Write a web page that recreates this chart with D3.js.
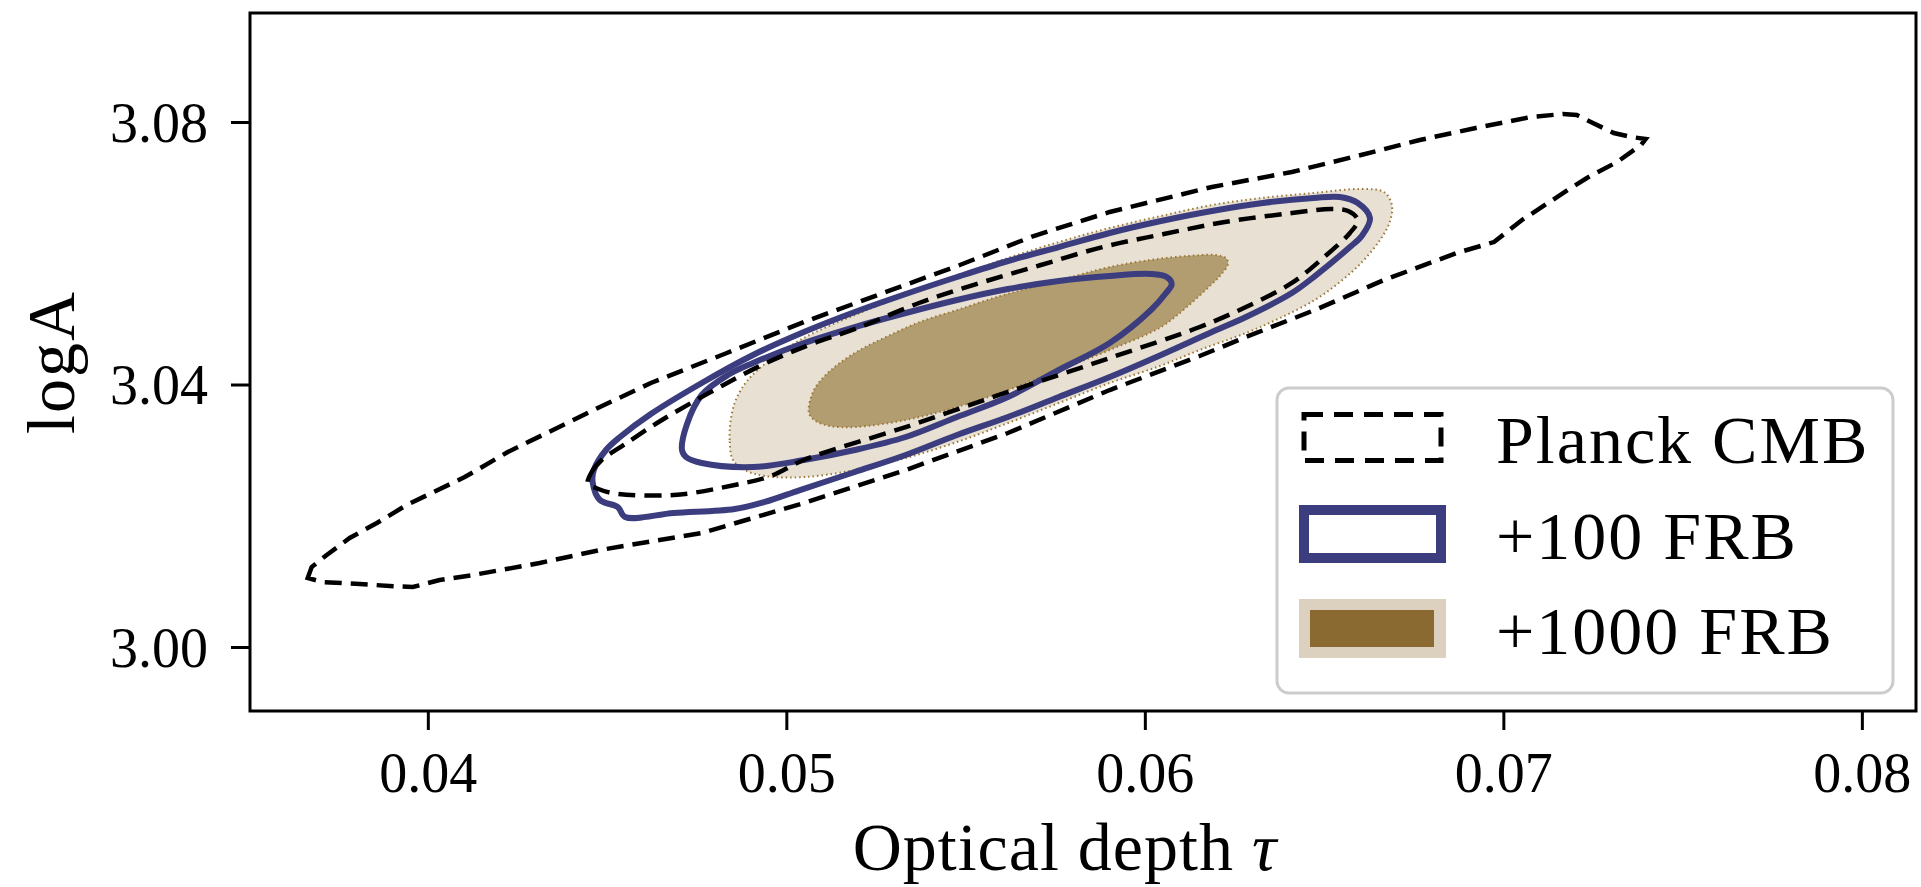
<!DOCTYPE html>
<html>
<head>
<meta charset="utf-8">
<script src="https://cdn.jsdelivr.net/npm/d3@7"></script>
<style>
  html, body { margin: 0; padding: 0; background: #ffffff; }
  svg { display: block; }
  text { font-family: "Liberation Serif", "DejaVu Serif", serif; fill: #000; }
</style>
</head>
<body>
<svg id="chart" width="1921" height="887"></svg>
<script>
// ---------- data (tau, logA) ----------
const xTicks = [0.04, 0.05, 0.06, 0.07, 0.08];
const xTickLabels = ["0.04", "0.05", "0.06", "0.07", "0.08"];
const yTicks = [3.00, 3.04, 3.08];
const yTickLabels = ["3.00", "3.04", "3.08"];
const xDomain = [0.03504, 0.08151];
const yDomain = [2.99025, 3.09661];
const xLabel = "Optical depth ";
const xLabelGreek = "τ";
const yLabel = "logA";
const legendLabels = ["Planck CMB", "+100 FRB", "+1000 FRB"];

// Planck CMB, 95% contour
const planckOuter = [
  [0.03665,3.01051],[0.03676,3.01219],[0.03718,3.01402],[0.03782,3.01661],[0.03858,3.01890],
  [0.03941,3.02164],[0.04103,3.02590],[0.04223,3.02971],[0.04480,3.03657],[0.04622,3.04023],
  [0.04834,3.04480],[0.05049,3.04952],[0.05278,3.05410],[0.05484,3.05821],[0.05690,3.06263],
  [0.05902,3.06629],[0.06187,3.07010],[0.06410,3.07238],[0.06603,3.07497],[0.06767,3.07726],
  [0.06923,3.07909],[0.07077,3.08076],[0.07166,3.08122],[0.07205,3.08107],[0.07244,3.08000],
  [0.07308,3.07832],[0.07358,3.07771],[0.07397,3.07741],[0.07384,3.07650],[0.07317,3.07390],
  [0.07233,3.07147],[0.07180,3.06964],[0.07052,3.06507],[0.06974,3.06171],[0.06870,3.06004],
  [0.06667,3.05592],[0.06474,3.05135],[0.06282,3.04724],[0.06153,3.04434],[0.05902,3.03916],
  [0.05618,3.03261],[0.05333,3.02697],[0.05049,3.02194],[0.04764,3.01737],[0.04480,3.01478],
  [0.04312,3.01280],[0.04126,3.01097],[0.04033,3.01021],[0.03958,3.00914],[0.03894,3.00930],
  [0.03810,3.00960],[0.03707,3.00990]
];
// Planck CMB, 68% contour
const planckInner = [
  [0.04446,3.02484],[0.04457,3.02667],[0.04485,3.02850],[0.04550,3.03093],[0.04653,3.03459],
  [0.04789,3.03886],[0.04926,3.04282],[0.05063,3.04602],[0.05199,3.04861],[0.05370,3.05242],
  [0.05540,3.05547],[0.05710,3.05821],[0.05883,3.06095],[0.06053,3.06293],[0.06223,3.06476],
  [0.06410,3.06613],[0.06520,3.06674],[0.06567,3.06644],[0.06594,3.06507],[0.06572,3.06309],
  [0.06500,3.05943],[0.06410,3.05547],[0.06282,3.05181],[0.06153,3.04876],[0.05902,3.04404],
  [0.05618,3.03886],[0.05333,3.03352],[0.05049,3.02850],[0.04957,3.02606],[0.04856,3.02469],
  [0.04686,3.02316],[0.04513,3.02347],[0.04469,3.02423]
];
// +100 FRB, 95% contour
const frb100Outer = [
  [0.04460,3.02499],[0.04463,3.02697],[0.04497,3.03002],[0.04536,3.03200],[0.04622,3.03550],
  [0.04764,3.04023],[0.04907,3.04450],[0.05049,3.04800],[0.05191,3.05105],[0.05333,3.05379],
  [0.05476,3.05638],[0.05618,3.05882],[0.05760,3.06095],[0.05902,3.06309],[0.06045,3.06491],
  [0.06187,3.06644],[0.06329,3.06766],[0.06471,3.06842],[0.06544,3.06857],[0.06594,3.06766],
  [0.06628,3.06537],[0.06605,3.06263],[0.06572,3.06095],[0.06471,3.05638],[0.06410,3.05394],
  [0.06282,3.05029],[0.06187,3.04800],[0.06045,3.04450],[0.05902,3.04114],[0.05760,3.03810],
  [0.05618,3.03505],[0.05476,3.03230],[0.05333,3.02926],[0.05191,3.02667],[0.05038,3.02392],
  [0.04940,3.02210],[0.04856,3.02103],[0.04686,3.02042],[0.04550,3.01981],[0.04530,3.02133],
  [0.04480,3.02240]
];
// +100 FRB, 68% contour
const frb100Inner = [
  [0.04709,3.03002],[0.04722,3.03383],[0.04764,3.03840],[0.04837,3.04145],[0.04907,3.04328],
  [0.05049,3.04632],[0.05191,3.04876],[0.05333,3.05090],[0.05476,3.05288],[0.05618,3.05455],
  [0.05760,3.05577],[0.05902,3.05653],[0.06017,3.05684],[0.06061,3.05638],[0.06075,3.05531],
  [0.06059,3.05394],[0.06017,3.05135],[0.05902,3.04632],[0.05760,3.04221],[0.05618,3.03810],
  [0.05476,3.03505],[0.05333,3.03200],[0.05191,3.03002],[0.05049,3.02849],[0.04907,3.02743],
  [0.04764,3.02804],[0.04720,3.02895]
];
// +1000 FRB, 95% contour
const frb1000Outer = [
  [0.04851,3.02850],[0.04842,3.03154],[0.04845,3.03459],[0.04859,3.03764],[0.04893,3.04069],
  [0.04954,3.04373],[0.05049,3.04709],[0.05191,3.05059],[0.05333,3.05364],[0.05476,3.05653],
  [0.05618,3.05928],[0.05760,3.06171],[0.05902,3.06385],[0.06045,3.06568],[0.06187,3.06735],
  [0.06326,3.06842],[0.06471,3.06918],[0.06603,3.06979],[0.06667,3.06933],[0.06689,3.06735],
  [0.06683,3.06476],[0.06656,3.06202],[0.06603,3.05851],[0.06544,3.05562],[0.06474,3.05288],
  [0.06377,3.05013],[0.06282,3.04785],[0.06153,3.04526],[0.06042,3.04282],[0.05902,3.04023],
  [0.05760,3.03718],[0.05618,3.03413],[0.05476,3.03124],[0.05333,3.02880],[0.05191,3.02697],
  [0.05049,3.02590],[0.04940,3.02606],[0.04884,3.02697]
];
// +1000 FRB, 68% contour
const frb1000Inner = [
  [0.05063,3.03566],[0.05077,3.03916],[0.05110,3.04145],[0.05149,3.04328],[0.05205,3.04526],
  [0.05278,3.04724],[0.05372,3.04952],[0.05476,3.05135],[0.05596,3.05349],[0.05690,3.05486],
  [0.05805,3.05653],[0.05902,3.05790],[0.06014,3.05897],[0.06117,3.05958],[0.06195,3.05973],
  [0.06226,3.05928],[0.06232,3.05836],[0.06209,3.05653],[0.06187,3.05531],[0.06117,3.05181],
  [0.06045,3.04876],[0.05902,3.04526],[0.05760,3.04221],[0.05618,3.03916],[0.05476,3.03657],
  [0.05333,3.03459],[0.05191,3.03352],[0.05121,3.03368],[0.05082,3.03444]
];

// ---------- styles ----------
const colBlue = "#3b3d7f";
const colLightFill = "#e7e0d3";
const colDarkFill = "#b29d71";
const colDot = "#9b7738";
const legLight = "#dcd1be";
const legDark = "#8a6a30";

// ---------- layout ----------
const svg = d3.select("#chart");
const plot = { left: 250, right: 1916, top: 13, bottom: 711 };

const x = d3.scaleLinear().domain(xDomain).range([plot.left, plot.right]);
const y = d3.scaleLinear().domain(yDomain).range([plot.bottom, plot.top]);

const smooth = d3.line().x(d => x(d[0])).y(d => y(d[1])).curve(d3.curveCatmullRomClosed.alpha(0.5));
const poly = d3.line().x(d => x(d[0])).y(d => y(d[1])).curve(d3.curveLinearClosed);

svg.append("defs").append("clipPath").attr("id", "clip")
  .append("rect").attr("x", plot.left).attr("y", plot.top)
  .attr("width", plot.right - plot.left).attr("height", plot.bottom - plot.top);

const g = svg.append("g").attr("clip-path", "url(#clip)");

// +1000 FRB filled contours
g.append("path").attr("d", smooth(frb1000Outer))
  .attr("fill", colLightFill).attr("stroke", colDot).attr("stroke-width", 2)
  .attr("stroke-dasharray", "1.5,3");
g.append("path").attr("d", smooth(frb1000Inner))
  .attr("fill", colDarkFill).attr("stroke", colDot).attr("stroke-width", 2)
  .attr("stroke-dasharray", "1.5,3");

// +100 FRB contours
[frb100Outer, frb100Inner].forEach(c => {
  g.append("path").attr("d", smooth(c))
    .attr("fill", "none").attr("stroke", colBlue).attr("stroke-width", 6)
    .attr("stroke-linejoin", "round");
});

// Planck contours
g.append("path").attr("d", poly(planckOuter))
  .attr("fill", "none").attr("stroke", "#000").attr("stroke-width", 4.5)
  .attr("stroke-dasharray", "17,9");
g.append("path").attr("d", smooth(planckInner))
  .attr("fill", "none").attr("stroke", "#000").attr("stroke-width", 4.5)
  .attr("stroke-dasharray", "17,9");

// ---------- axes ----------
const xAxis = d3.axisBottom(x).tickValues(xTicks).tickSize(19).tickPadding(8)
  .tickFormat((d, i) => xTickLabels[i]);
const yAxis = d3.axisLeft(y).tickValues(yTicks).tickSize(19).tickPadding(23)
  .tickFormat((d, i) => yTickLabels[i]);

const gx = svg.append("g").attr("transform", `translate(0,${plot.bottom})`).call(xAxis);
const gy = svg.append("g").attr("transform", `translate(${plot.left},0)`).call(yAxis);
[gx, gy].forEach(a => {
  a.select(".domain").remove();
  a.selectAll(".tick line").attr("stroke", "#000").attr("stroke-width", 3);
  a.selectAll(".tick text").attr("font-size", 56)
    .attr("font-family", "'Liberation Serif', serif").attr("fill", "#000");
});
gx.selectAll(".tick text").attr("dy", "0").attr("y", 81);
gy.selectAll(".tick text").attr("dy", "0.34em");

// frame
svg.append("rect").attr("x", plot.left).attr("y", plot.top)
  .attr("width", plot.right - plot.left).attr("height", plot.bottom - plot.top)
  .attr("fill", "none").attr("stroke", "#000").attr("stroke-width", 3);

// axis labels
const xl = svg.append("text").attr("x", (plot.left + plot.right) / 2 - 18).attr("y", 870)
  .attr("text-anchor", "middle").attr("font-size", 68).attr("letter-spacing", 1);
xl.append("tspan").text(xLabel);
xl.append("tspan").attr("font-style", "italic").text(xLabelGreek);

svg.append("text")
  .attr("transform", `translate(74,${(plot.top + plot.bottom) / 2}) rotate(-90)`)
  .attr("text-anchor", "middle").attr("font-size", 68).attr("letter-spacing", 2)
  .text(yLabel);

// ---------- legend ----------
const leg = svg.append("g");
leg.append("rect").attr("x", 1277).attr("y", 388).attr("width", 616).attr("height", 305)
  .attr("rx", 12).attr("fill", "#fff").attr("fill-opacity", 0.85)
  .attr("stroke", "#cccccc").attr("stroke-width", 3);

const rowY = [437.5, 534, 628.5];
const hx = 1304, hw = 137, hh = 46;
// Planck handle
leg.append("rect").attr("x", hx).attr("y", rowY[0] - hh / 2).attr("width", hw).attr("height", hh)
  .attr("fill", "none").attr("stroke", "#000").attr("stroke-width", 5)
  .attr("stroke-dasharray", "19,11");
// +100 handle
leg.append("rect").attr("x", hx).attr("y", rowY[1] - 24).attr("width", hw).attr("height", 48)
  .attr("fill", "#fff").attr("stroke", colBlue).attr("stroke-width", 10);
// +1000 handle
leg.append("rect").attr("x", 1299).attr("y", rowY[2] - 29.5).attr("width", 147).attr("height", 59)
  .attr("fill", legLight);
leg.append("rect").attr("x", 1310).attr("y", rowY[2] - 18.5).attr("width", 124).attr("height", 37)
  .attr("fill", legDark);

legendLabels.forEach((t, i) => {
  leg.append("text").attr("x", 1496).attr("y", rowY[i] + 25)
    .attr("font-size", 68).attr("letter-spacing", 2).text(t);
});
</script>
</body>
</html>
